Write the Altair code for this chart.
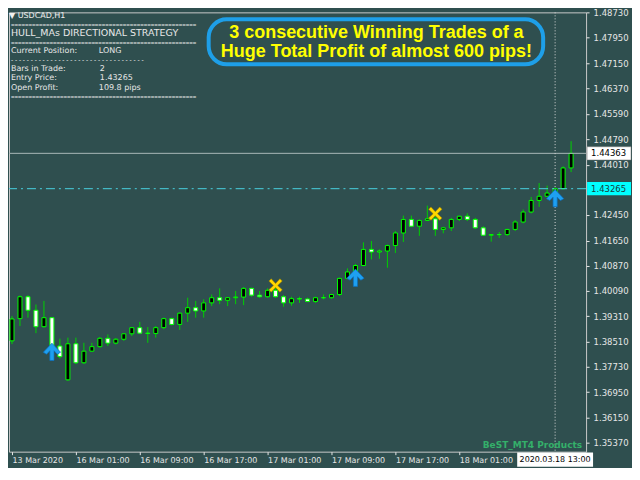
import altair as alt
import pandas as pd

# ---------------- data ----------------
bar_idx = list(range(71))
opens = [1.3854, 1.3923, 1.3991, 1.3949, 1.3898, 1.3926, 1.3838, 1.3733, 1.3845, 1.3786,
         1.3822, 1.3836, 1.3862, 1.3847, 1.3859, 1.3876, 1.3895, 1.3878, 1.3877, 1.3895,
         1.3923, 1.3905, 1.3940, 1.3957, 1.3947, 1.3972, 1.3988, 1.3980, 1.3988, 1.3990,
         1.4017, 1.3996, 1.3991, 1.4011, 1.3991, 1.3972, 1.3985, 1.3984, 1.3976, 1.3988,
         1.3988, 1.3998, 1.4048, 1.4068, 1.4088, 1.4138, 1.4130, 1.4133, 1.4150, 1.4189,
         1.4231, 1.4210, 1.4228, 1.4233, 1.4200, 1.4205, 1.4231, 1.4241, 1.4231, 1.4205,
         1.4182, 1.4184, 1.4184, 1.4200, 1.4223, 1.4254, 1.4290, 1.4303, 1.4313, 1.43265,
         1.4391]
highs = [1.3931, 1.3995, 1.3996, 1.3967, 1.3978, 1.3928, 1.3861, 1.3864, 1.3864, 1.3848,
         1.3848, 1.3866, 1.3874, 1.3863, 1.3878, 1.3897, 1.3913, 1.3897, 1.3900, 1.3926,
         1.3926, 1.3942, 1.3988, 1.3978, 1.3983, 1.3998, 1.4017, 1.3990, 1.4009, 1.4021,
         1.4019, 1.4009, 1.4017, 1.4019, 1.3996, 1.3991, 1.3991, 1.3988, 1.3991, 1.3998,
         1.4000, 1.4050, 1.4079, 1.4093, 1.4160, 1.4164, 1.4138, 1.4153, 1.4195, 1.4243,
         1.4243, 1.4231, 1.4274, 1.4257, 1.4208, 1.4236, 1.4243, 1.4250, 1.4236, 1.4210,
         1.4186, 1.4192, 1.4202, 1.4229, 1.4262, 1.4301, 1.4344, 1.4336, 1.4330, 1.4396,
         1.4474]
lows = [1.3844, 1.3900, 1.3926, 1.3878, 1.3895, 1.3810, 1.3799, 1.3730, 1.3782, 1.3782,
        1.3820, 1.3833, 1.3838, 1.3843, 1.3854, 1.3869, 1.3875, 1.3848, 1.3864, 1.3890,
        1.3902, 1.3888, 1.3913, 1.3926, 1.3926, 1.3962, 1.3968, 1.3962, 1.3968, 1.3965,
        1.3991, 1.3988, 1.3988, 1.3988, 1.3960, 1.3963, 1.3972, 1.3975, 1.3972, 1.3983,
        1.3985, 1.3993, 1.4045, 1.4064, 1.4086, 1.4107, 1.4109, 1.4081, 1.4127, 1.4161,
        1.4208, 1.4180, 1.4226, 1.4180, 1.4188, 1.4195, 1.4226, 1.4226, 1.4202, 1.4180,
        1.4162, 1.4174, 1.4180, 1.4195, 1.4219, 1.4250, 1.4270, 1.4301, 1.4310, 1.4324,
        1.4378]
closes = [1.3922, 1.3991, 1.3949, 1.3898, 1.3926, 1.3838, 1.3805, 1.3845, 1.3786, 1.3822,
          1.3836, 1.3862, 1.3847, 1.3859, 1.3876, 1.3895, 1.3878, 1.3877, 1.3895, 1.3923,
          1.3905, 1.3940, 1.3957, 1.3947, 1.3972, 1.3988, 1.3980, 1.3988, 1.3990, 1.4017,
          1.3996, 1.3991, 1.4011, 1.3991, 1.3972, 1.3985, 1.3984, 1.3976, 1.3988, 1.3988,
          1.3998, 1.4048, 1.4068, 1.4088, 1.4138, 1.4130, 1.4133, 1.4150, 1.4189, 1.4231,
          1.4210, 1.4228, 1.4233, 1.4200, 1.4205, 1.4231, 1.4241, 1.4231, 1.4205, 1.4182,
          1.4184, 1.4184, 1.4200, 1.4223, 1.4254, 1.4290, 1.4303, 1.4313, 1.43265, 1.4391,
          1.44363]

buy_idx = [5, 43, 68]
buy_price = [1.3820, 1.4050, 1.4297]
exit_idx = [33, 53]
exit_price = [1.4026, 1.4249]

x_tick_idx = [0, 8, 16, 24, 32, 40, 48, 56]
x_tick_labels = ["13 Mar 2020", "16 Mar 01:00", "16 Mar 09:00", "16 Mar 17:00",
                 "17 Mar 01:00", "17 Mar 09:00", "17 Mar 17:00", "18 Mar 01:00"]
y_ticks = [1.48730, 1.47950, 1.47150, 1.46370, 1.45590, 1.44790, 1.44010, 1.42450,
           1.41650, 1.40870, 1.40090, 1.39310, 1.38510, 1.37730, 1.36950, 1.36150, 1.35370]

current_price = [1.44363]
entry_price = [1.43265]
cross_idx = [68]
cross_label = ["2020.03.18 13:00"]

# ---------------- layout ----------------
W, H = 578, 440
BG = "#2F4F4F"
X_DOM = [0.25, 71.25]
Y_DOM = [1.3510, 1.4874]

candles = pd.DataFrame({"idx": bar_idx, "open": opens, "high": highs,
                        "low": lows, "close": closes})
buys = pd.DataFrame({"idx": buy_idx, "price": buy_price})
exits = pd.DataFrame({"idx": exit_idx, "price": exit_price})
one = pd.DataFrame({"a": [0]})

label_expr = ""
for i, lab in zip(x_tick_idx, x_tick_labels):
    label_expr += f"datum.value == {i} ? '{lab}' : "
label_expr += "''"

xs = alt.Scale(domain=X_DOM, nice=False, zero=False)
ys = alt.Scale(domain=Y_DOM, nice=False, zero=False)

AX_COL = "#E6E6E6"
x_axis = alt.Axis(
    values=x_tick_idx, labelExpr=label_expr, orient="bottom", labelAlign="left",
    labelFlush=False, labelOverlap=False, tickSize=3, labelPadding=2, domain=False,
    labelColor=AX_COL, tickColor=AX_COL, labelFont="DejaVu Sans", labelFontSize=8,
    grid=False, title=None)
y_axis = alt.Axis(values=y_ticks, format=".5f", orient="right", labelAlign="left",
                  labelFlush=False, labelOverlap=False, labelBound=False, tickSize=3,
                  labelPadding=4, domain=False, labelColor=AX_COL, tickColor=AX_COL,
                  labelFont="DejaVu Sans", labelFontSize=8.5, grid=False, title=None)


def X(field):
    return alt.X(field, scale=xs, axis=x_axis)


def Y(field):
    return alt.Y(field, scale=ys, axis=y_axis)


base = alt.Chart(candles)

wicks = base.mark_rule(color="#00D000", strokeWidth=1, clip=True).encode(
    x=X("idx:Q"), y=Y("low:Q"), y2="high:Q",
)
bodies = base.mark_bar(size=4, stroke="#00FF00", strokeWidth=1, clip=True).encode(
    x=X("idx:Q"),
    y=Y("open:Q"),
    y2="close:Q",
    fill=alt.condition("datum.close >= datum.open", alt.value("#000000"), alt.value("#FFFFFF")),
)

cur_df = pd.DataFrame({"p": current_price})
ent_df = pd.DataFrame({"p": entry_price})
cross_df = pd.DataFrame({"idx": cross_idx, "lab": cross_label})

cur_line = alt.Chart(cur_df).mark_rule(color="#A9B8B8", strokeWidth=1).encode(y=Y("p:Q"))
entry_line = alt.Chart(ent_df).mark_rule(
    color="#48D1E0", strokeWidth=1, strokeDash=[9, 4, 2, 4]).encode(y=Y("p:Q"))
cross_line = alt.Chart(cross_df).mark_rule(
    color="#D8D8D8", strokeWidth=1, strokeDash=[1, 2]).encode(x=X("idx:Q"))

ARROW = "M0,-1 L1,0.05 L0.62,0.28 L0.24,-0.12 L0.24,1 L-0.24,1 L-0.24,-0.12 L-0.62,0.28 L-1,0.05 Z"
XSHAPE = ("M-1,-0.65 L-0.65,-1 L0,-0.3 L0.65,-1 L1,-0.65 L0.32,0 L1,0.65 L0.65,1 "
          "L0,0.3 L-0.65,1 L-1,0.65 L-0.32,0 Z")

arrows = alt.Chart(buys).mark_point(shape=ARROW, size=300, filled=True, fill="#1EA0F0",
                                    stroke="#0B6FC0", strokeWidth=0.7, opacity=1).encode(
    x=X("idx:Q"), y=Y("price:Q"))
xmarks = alt.Chart(exits).mark_point(shape=XSHAPE, size=180, filled=True, fill="#FFD700",
                                     stroke="#9A7D00", strokeWidth=0.6, opacity=1).encode(
    x=X("idx:Q"), y=Y("price:Q"))

BOX = "M-1,-0.3 L1,-0.3 L1,0.3 L-1,0.3 Z"
cur_box = alt.Chart(cur_df).mark_point(
    shape=BOX, size=44 * 44, filled=True, fill="#FFFFFF", stroke="#808080",
    strokeWidth=0.5, opacity=1).encode(x=alt.value(W + 23), y=Y("p:Q"))
cur_txt = alt.Chart(cur_df).mark_text(
    align="left", baseline="middle", font="DejaVu Sans", fontSize=8.5, color="#000000").encode(
    x=alt.value(W + 5), y=Y("p:Q"), text=alt.Text("p:Q", format=".5f"))
ent_box = alt.Chart(ent_df).mark_point(
    shape=BOX, size=44 * 44, filled=True, fill="#00FFFF", opacity=1).encode(
    x=alt.value(W + 23), y=Y("p:Q"))
ent_txt = alt.Chart(ent_df).mark_text(
    align="left", baseline="middle", font="DejaVu Sans", fontSize=8.5, color="#1A3A3A").encode(
    x=alt.value(W + 5), y=Y("p:Q"), text=alt.Text("p:Q", format=".5f"))

TBOX = "M-1,-0.19 L1,-0.19 L1,0.19 L-1,0.19 Z"
cross_box = alt.Chart(cross_df).mark_point(
    shape=TBOX, size=76 * 76, filled=True, fill="#FFFFFF", opacity=1).encode(
    x=X("idx:Q"), y=alt.value(H + 8))
cross_txt = alt.Chart(cross_df).mark_text(
    align="center", baseline="middle", font="DejaVu Sans", fontSize=8, color="#000000").encode(
    x=X("idx:Q"), y=alt.value(H + 8), text="lab:N")


def txt(s, x, y, size=8, color="#E8E8E8", font="DejaVu Sans", weight="normal", align="left"):
    return alt.Chart(one).mark_text(text=s, align=align, baseline="middle", fontSize=size,
                                    font=font, fontWeight=weight, color=color).encode(
        x=alt.value(x), y=alt.value(y))


EQ = "=" * 53
info = [
    txt("\u25BC  USDCAD,H1", 0, 4, size=8, color="#F0F0F0"),
    txt(EQ, 2, 12.5, font="Liberation Sans", size=6),
    txt("HULL_MAs    DIRECTIONAL    STRATEGY", 2, 21, size=9.5),
    txt(EQ, 2, 30.5, font="Liberation Sans", size=6),
    txt("Current Position:", 2, 39),
    txt("LONG", 90, 39),
    txt("- " * 34, 2, 48, font="Liberation Sans", size=6.5),
    txt("Bars in Trade:", 2, 56.5),
    txt("2", 91, 56.5),
    txt("Entry Price:", 2, 66),
    txt("1.43265", 91, 66),
    txt("Open Profit:", 2, 75.5),
    txt("109.8 pips", 90, 75.5),
    txt(EQ, 2, 85, font="Liberation Sans", size=6),
]

callout_box = alt.Chart(one).mark_rect(cornerRadius=18, fillOpacity=0, stroke="#1E9FE8",
                                       strokeWidth=4).encode(
    x=alt.value(200), x2=alt.value(535), y=alt.value(7), y2=alt.value(52))
callout = [
    txt("3 consecutive Winning Trades of a", 368, 21, size=18, color="#FFFF00",
        font="Liberation Sans", weight="bold", align="center"),
    txt("Huge Total Profit of almost 600 pips!", 368, 40, size=18, color="#FFFF00",
        font="Liberation Sans", weight="bold", align="center"),
]
brand = txt("BeST_MT4 Products", 574, 433, size=9, color="#34B06A", font="DejaVu Sans",
            weight="bold", align="right")

chart = alt.layer(
    wicks, bodies, cur_line, entry_line, cross_line, arrows, xmarks,
    cur_box, cur_txt, ent_box, ent_txt, cross_box, cross_txt,
    *info, callout_box, *callout, brand,
).properties(width=W, height=H, padding={"left": 0, "top": 0, "right": 0, "bottom": 0},
             background=BG).configure_view(stroke="#C8C8C8", strokeWidth=1, fill=BG)

chart.save("out.html", embed_options={"renderer": "svg", "actions": False})
